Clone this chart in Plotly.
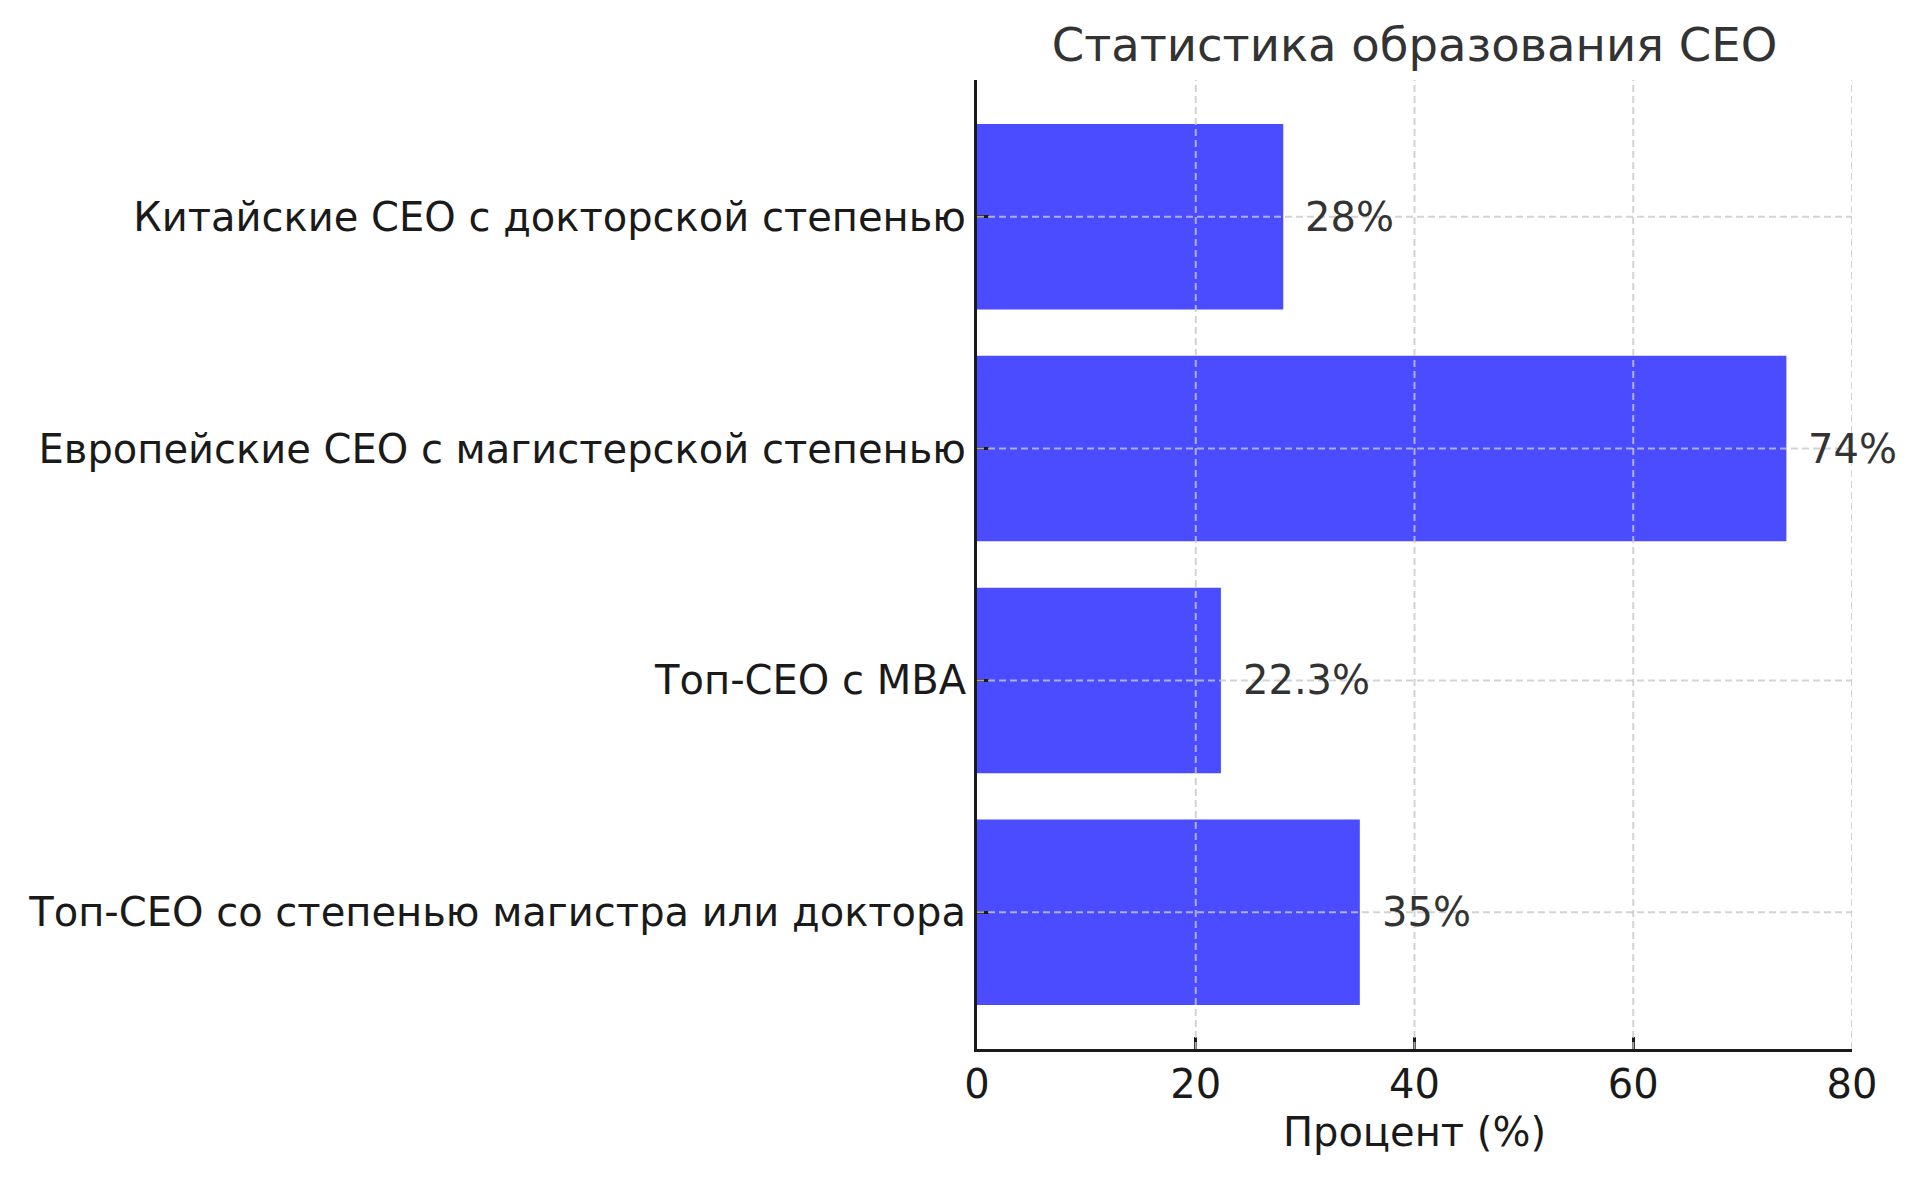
import plotly.graph_objects as go

# Data (bottom-to-top order, as in the reference's y axis)
categories = [
    "Топ-CEO со степенью магистра или доктора",
    "Топ-CEO с MBA",
    "Европейские CEO с магистерской степенью",
    "Китайские CEO с докторской степенью",
]
values = [35, 22.3, 74, 28]
x_ticks = [0, 20, 40, 60, 80]
title_text = "Статистика образования CEO"
x_title = "Процент (%)"
label_offset = 2

FONT = "DejaVu Sans"
BAR = "#4B4BFF"
GRID = "rgba(200,200,200,0.8)"

fig = go.Figure()
fig.add_trace(go.Bar(
    x=values,
    y=categories,
    orientation="h",
    width=0.8,
    marker=dict(color=BAR, line=dict(width=0)),
    hoverinfo="skip",
))

# value labels
for c, v in zip(categories, values):
    fig.add_annotation(
        x=v + label_offset, y=c, xref="x", yref="y",
        text=f"{v:g}%", showarrow=False,
        xanchor="left", yanchor="middle", xshift=-2,
        font=dict(family=FONT, size=40, color="#333333"),
    )

# grid lines drawn above the bars (as in the reference)
for t in x_ticks:
    if t > x_ticks[0]:
        fig.add_shape(type="line", xref="x", yref="y domain",
                      x0=t, x1=t, y0=0, y1=1, layer="above",
                      line=dict(color=GRID, width=2, dash="7px,4px"))
for c in categories:
    fig.add_shape(type="line", xref="x domain", yref="y",
                  x0=0, x1=1, y0=c, y1=c, layer="above",
                  line=dict(color=GRID, width=2, dash="7px,4px"))

fig.update_layout(
    width=1920, height=1178,
    margin=dict(l=977, r=68, t=80, b=129, autoexpand=False),
    paper_bgcolor="white", plot_bgcolor="white",
    showlegend=False,
    font=dict(family=FONT, color="#1a1a1a"),
    title=dict(
        text=title_text, x=0.5, xref="paper", xanchor="center",
        y=1 - 45 / 1178, yref="container", yanchor="middle",
        font=dict(family=FONT, size=46.5, color="#333333"),
    ),
)
fig.update_xaxes(
    range=[x_ticks[0], x_ticks[-1]],
    tickvals=x_ticks,
    showgrid=False, zeroline=False,
    showline=True, linecolor="#1a1a1a", linewidth=3,
    ticks="inside", ticklen=12, tickwidth=2.5, tickcolor="#1a1a1a",
    ticklabelstandoff=-2,
    tickfont=dict(family=FONT, size=40, color="#1a1a1a"),
    title=dict(text=x_title, font=dict(family=FONT, size=40, color="#1a1a1a"), standoff=12),
    layer="above traces",
)
fig.update_yaxes(
    range=[-0.59, len(categories) - 1 + 0.59],
    showgrid=False, zeroline=False,
    showline=True, linecolor="#1a1a1a", linewidth=3,
    ticks="inside", ticklen=12, tickwidth=2.5, tickcolor="#1a1a1a",
    tickfont=dict(family=FONT, size=40, color="#1a1a1a"),
    layer="above traces",
)

fig.write_html(
    "out.html",
    config={"displayModeBar": False},
    post_script="document.body.style.margin='0';document.body.style.padding='0';",
)
